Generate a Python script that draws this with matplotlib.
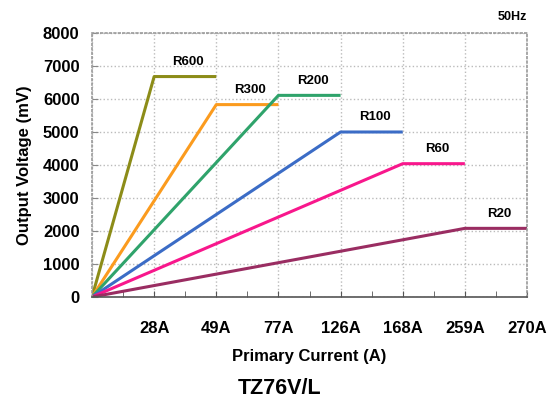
import matplotlib
matplotlib.use('Agg')
import matplotlib.pyplot as plt
from matplotlib.ticker import MultipleLocator

plt.rcParams['font.family'] = ['Liberation Sans', 'DejaVu Sans']
plt.rcParams['font.weight'] = 'bold'

# tick labels along the primary current axis (position 0 unlabeled)
current_labels = ['', '28A', '49A', '77A', '126A', '168A', '259A', '270A']

# each range rises from 0 to its knee position, then stays flat one step
range_names = ['R600', 'R300', 'R200', 'R100', 'R60', 'R20']
knee_pos = [1, 2, 3, 4, 5, 6]
plateau_mv = [6680, 5830, 6110, 5000, 4040, 2080]
range_colors = ['#8c8c18', '#fb9b1e', '#2fa36b', '#3b6cc6', '#f8178c', '#9a2d62']

fig = plt.figure(figsize=(5.6, 4.03), dpi=100)
ax = fig.add_axes([92/560, 1-297/403, 435/560, 264/403])

for name, k, v, c in zip(range_names, knee_pos, plateau_mv, range_colors):
    ax.plot([0, k, k + 1], [0, v, v], color=c, lw=2.2, solid_capstyle='butt')
    ax.text(k + 0.55, v + 450, name, fontsize=9.5, fontweight='bold',
            ha='center', va='center')

ax.set_xlim(0, 7)
ax.set_ylim(0, 8000)
ax.set_xticks(range(len(current_labels)))
ax.set_xticklabels(current_labels)
ax.xaxis.set_minor_locator(MultipleLocator(0.5))
ax.yaxis.set_major_locator(MultipleLocator(1000))

ax.grid(True, color='#bbbbbb', linestyle=':', linewidth=1)
ax.tick_params(axis='x', which='both', direction='in', length=4, pad=17,
               labelsize=12, color='#555555')
ax.tick_params(axis='y', direction='in', length=4, pad=9, labelsize=12,
               color='#888888')
for lab in ax.get_xticklabels() + ax.get_yticklabels():
    lab.set_fontweight('bold')

for s in ['top', 'right', 'left']:
    ax.spines[s].set_color('#999999')
    ax.spines[s].set_linestyle(':')
    ax.spines[s].set_linewidth(1.2)
ax.spines['bottom'].set_color('#555555')
ax.spines['bottom'].set_linewidth(1.2)

ax.set_xlabel('Primary Current (A)', fontsize=12, fontweight='bold', labelpad=10)
ax.set_ylabel('Output Voltage (mV)', fontsize=12, fontweight='bold', labelpad=8)

fig.text(512/560, 1-17/403, '50Hz', fontsize=9, fontweight='bold',
         ha='center', va='center')
fig.text(280/560, 1-388/403, 'TZ76V/L', fontsize=15.5, fontweight='bold',
         ha='center', va='center')

fig.savefig('out.png', dpi=100)
